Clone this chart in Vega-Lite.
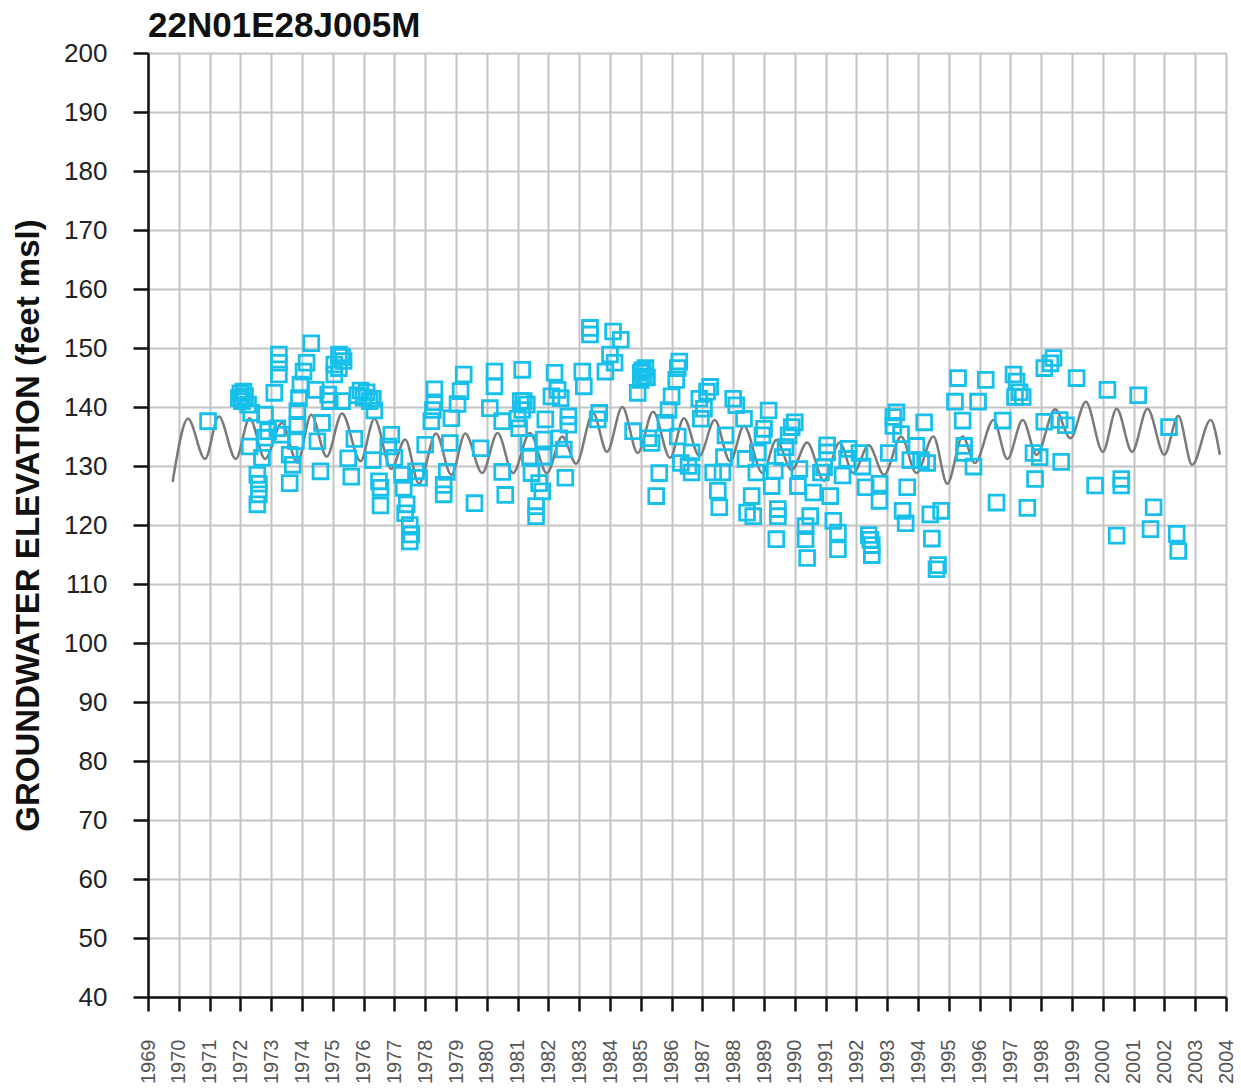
{
  "$schema": "https://vega.github.io/schema/vega-lite/v6.json",
  "width": 1078,
  "height": 944,
  "autosize": "none",
  "padding": {"left": 148, "top": 53, "right": 15, "bottom": 95},
  "background": "white",
  "title": {"text": "22N01E28J005M", "anchor": "start", "frame": "group", "fontSize": 35, "font": "Liberation Sans", "fontWeight": "bold", "color": "#111111", "offset": -4},
  "config": {"view": {"stroke": null}, "font": "Liberation Sans"},
  "datasets": {
    "sim": [
      {"year": 1969.8, "elev": 127.3}, {"year": 1970.3, "elev": 138.0}, {"year": 1970.85, "elev": 131.2},
      {"year": 1971.3, "elev": 138.4}, {"year": 1971.85, "elev": 131.2}, {"year": 1972.3, "elev": 138.1},
      {"year": 1972.8, "elev": 131.2}, {"year": 1973.35, "elev": 137.3}, {"year": 1973.85, "elev": 130.6},
      {"year": 1974.3, "elev": 138.7}, {"year": 1974.8, "elev": 131.6}, {"year": 1975.3, "elev": 138.9},
      {"year": 1975.9, "elev": 130.8}, {"year": 1976.35, "elev": 138.0}, {"year": 1976.9, "elev": 129.5},
      {"year": 1977.35, "elev": 134.5}, {"year": 1977.8, "elev": 127.0}, {"year": 1978.35, "elev": 135.5},
      {"year": 1978.85, "elev": 128.5}, {"year": 1979.3, "elev": 135.5}, {"year": 1979.85, "elev": 128.8},
      {"year": 1980.35, "elev": 135.6}, {"year": 1980.85, "elev": 128.8}, {"year": 1981.4, "elev": 135.6},
      {"year": 1981.95, "elev": 128.8}, {"year": 1982.45, "elev": 135.0}, {"year": 1982.9, "elev": 130.4},
      {"year": 1983.45, "elev": 139.0}, {"year": 1983.9, "elev": 132.4}, {"year": 1984.4, "elev": 140.0},
      {"year": 1984.9, "elev": 132.2}, {"year": 1985.4, "elev": 139.2}, {"year": 1985.95, "elev": 131.4},
      {"year": 1986.4, "elev": 138.1}, {"year": 1986.9, "elev": 131.7}, {"year": 1987.4, "elev": 137.8},
      {"year": 1987.9, "elev": 130.8}, {"year": 1988.35, "elev": 136.8}, {"year": 1988.95, "elev": 128.8},
      {"year": 1989.4, "elev": 134.4}, {"year": 1989.9, "elev": 129.3}, {"year": 1990.4, "elev": 134.0},
      {"year": 1990.95, "elev": 127.5}, {"year": 1991.45, "elev": 134.0}, {"year": 1991.9, "elev": 128.8},
      {"year": 1992.4, "elev": 133.5}, {"year": 1992.9, "elev": 128.5}, {"year": 1993.45, "elev": 135.0},
      {"year": 1993.95, "elev": 128.8}, {"year": 1994.5, "elev": 135.0}, {"year": 1994.95, "elev": 127.0},
      {"year": 1995.45, "elev": 135.0}, {"year": 1995.85, "elev": 130.5}, {"year": 1996.45, "elev": 137.8},
      {"year": 1996.9, "elev": 131.2}, {"year": 1997.4, "elev": 137.8}, {"year": 1997.85, "elev": 131.9},
      {"year": 1998.45, "elev": 139.6}, {"year": 1998.95, "elev": 134.7}, {"year": 1999.45, "elev": 140.9},
      {"year": 2000.0, "elev": 132.4}, {"year": 2000.45, "elev": 139.7}, {"year": 2000.95, "elev": 132.4},
      {"year": 2001.45, "elev": 139.7}, {"year": 2002.0, "elev": 131.9}, {"year": 2002.45, "elev": 138.5},
      {"year": 2002.9, "elev": 130.2}, {"year": 2003.5, "elev": 137.8}, {"year": 2003.8, "elev": 131.9}
    ],
    "obs": [
      {"year": 1970.95, "elev": 137.6}, {"year": 1971.95, "elev": 141.5}, {"year": 1972.0, "elev": 142.3},
      {"year": 1972.05, "elev": 141.0}, {"year": 1972.1, "elev": 142.6}, {"year": 1972.15, "elev": 141.8},
      {"year": 1972.25, "elev": 140.4}, {"year": 1972.35, "elev": 139.0}, {"year": 1972.3, "elev": 133.3},
      {"year": 1972.55, "elev": 128.5}, {"year": 1972.6, "elev": 127.0}, {"year": 1972.6, "elev": 125.2},
      {"year": 1972.55, "elev": 123.5}, {"year": 1972.7, "elev": 131.4}, {"year": 1972.8, "elev": 138.7},
      {"year": 1972.9, "elev": 135.9}, {"year": 1973.1, "elev": 142.4}, {"year": 1973.25, "elev": 145.5},
      {"year": 1973.25, "elev": 147.5}, {"year": 1973.25, "elev": 148.9}, {"year": 1972.8, "elev": 134.8},
      {"year": 1973.2, "elev": 136.4}, {"year": 1973.35, "elev": 135.3}, {"year": 1973.6, "elev": 131.9},
      {"year": 1973.6, "elev": 127.1}, {"year": 1973.7, "elev": 130.2}, {"year": 1973.8, "elev": 134.2},
      {"year": 1973.85, "elev": 137.0}, {"year": 1973.85, "elev": 139.3}, {"year": 1973.9, "elev": 141.5},
      {"year": 1973.95, "elev": 143.8}, {"year": 1974.05, "elev": 146.0}, {"year": 1974.15, "elev": 147.5},
      {"year": 1974.3, "elev": 150.8}, {"year": 1974.45, "elev": 142.9}, {"year": 1974.5, "elev": 134.2},
      {"year": 1974.6, "elev": 129.1}, {"year": 1974.65, "elev": 137.3}, {"year": 1974.85, "elev": 142.1},
      {"year": 1974.9, "elev": 141.0}, {"year": 1975.05, "elev": 147.2}, {"year": 1975.05, "elev": 145.5},
      {"year": 1975.2, "elev": 148.9}, {"year": 1975.3, "elev": 148.5}, {"year": 1975.35, "elev": 147.8},
      {"year": 1975.2, "elev": 146.6}, {"year": 1975.3, "elev": 141.0}, {"year": 1975.8, "elev": 142.0},
      {"year": 1975.9, "elev": 142.8}, {"year": 1976.0, "elev": 141.6}, {"year": 1976.1, "elev": 142.5},
      {"year": 1976.2, "elev": 141.0}, {"year": 1976.3, "elev": 141.4}, {"year": 1976.35, "elev": 139.4},
      {"year": 1975.7, "elev": 134.6}, {"year": 1975.5, "elev": 131.3}, {"year": 1975.6, "elev": 128.2},
      {"year": 1976.3, "elev": 131.0}, {"year": 1976.5, "elev": 127.4}, {"year": 1976.55, "elev": 126.3},
      {"year": 1976.55, "elev": 123.3}, {"year": 1976.9, "elev": 135.3}, {"year": 1976.8, "elev": 133.3},
      {"year": 1977.0, "elev": 131.4}, {"year": 1977.25, "elev": 128.5}, {"year": 1977.3, "elev": 126.3},
      {"year": 1977.4, "elev": 123.5}, {"year": 1977.35, "elev": 122.0}, {"year": 1977.5, "elev": 120.0},
      {"year": 1977.55, "elev": 118.4}, {"year": 1977.5, "elev": 117.2}, {"year": 1977.7, "elev": 129.1},
      {"year": 1977.8, "elev": 128.0}, {"year": 1978.0, "elev": 133.6}, {"year": 1978.2, "elev": 137.6},
      {"year": 1978.25, "elev": 139.5}, {"year": 1978.3, "elev": 143.0}, {"year": 1978.3, "elev": 140.8},
      {"year": 1978.6, "elev": 126.8}, {"year": 1978.6, "elev": 125.2}, {"year": 1978.7, "elev": 129.0},
      {"year": 1978.8, "elev": 133.9}, {"year": 1978.85, "elev": 138.1}, {"year": 1979.05, "elev": 140.5},
      {"year": 1979.15, "elev": 142.7}, {"year": 1979.25, "elev": 145.5}, {"year": 1979.8, "elev": 133.0},
      {"year": 1979.6, "elev": 123.7}, {"year": 1980.25, "elev": 146.0}, {"year": 1980.25, "elev": 143.5},
      {"year": 1980.1, "elev": 139.8}, {"year": 1980.5, "elev": 137.6}, {"year": 1980.5, "elev": 129.0},
      {"year": 1980.6, "elev": 125.1}, {"year": 1981.15, "elev": 146.3}, {"year": 1981.1, "elev": 141.0},
      {"year": 1981.15, "elev": 139.5}, {"year": 1981.2, "elev": 141.0}, {"year": 1981.3, "elev": 140.4},
      {"year": 1981.0, "elev": 138.0}, {"year": 1981.05, "elev": 136.4}, {"year": 1981.35, "elev": 133.9},
      {"year": 1981.4, "elev": 131.6}, {"year": 1981.45, "elev": 128.8}, {"year": 1981.7, "elev": 127.1},
      {"year": 1981.8, "elev": 125.7}, {"year": 1981.6, "elev": 123.2}, {"year": 1981.6, "elev": 121.5},
      {"year": 1981.9, "elev": 137.9}, {"year": 1981.85, "elev": 134.5}, {"year": 1981.85, "elev": 131.6},
      {"year": 1982.1, "elev": 141.8}, {"year": 1982.2, "elev": 145.8}, {"year": 1982.3, "elev": 142.9},
      {"year": 1982.4, "elev": 141.5}, {"year": 1982.65, "elev": 138.4}, {"year": 1982.65, "elev": 137.0},
      {"year": 1982.5, "elev": 132.8}, {"year": 1982.55, "elev": 128.0}, {"year": 1982.35, "elev": 134.7},
      {"year": 1983.1, "elev": 146.0}, {"year": 1983.15, "elev": 143.5}, {"year": 1983.35, "elev": 153.4},
      {"year": 1983.35, "elev": 152.3}, {"year": 1983.6, "elev": 137.9}, {"year": 1983.65, "elev": 139.0},
      {"year": 1983.85, "elev": 146.0}, {"year": 1984.0, "elev": 148.9}, {"year": 1984.1, "elev": 152.8},
      {"year": 1984.35, "elev": 151.4}, {"year": 1984.15, "elev": 147.5}, {"year": 1984.75, "elev": 135.9},
      {"year": 1985.0, "elev": 145.8}, {"year": 1985.0, "elev": 144.6}, {"year": 1985.1, "elev": 145.2},
      {"year": 1985.05, "elev": 146.2}, {"year": 1985.2, "elev": 145.0}, {"year": 1984.9, "elev": 142.4},
      {"year": 1985.15, "elev": 146.6}, {"year": 1985.25, "elev": 134.7}, {"year": 1985.35, "elev": 133.9},
      {"year": 1985.6, "elev": 128.8}, {"year": 1985.5, "elev": 124.9}, {"year": 1985.8, "elev": 137.3},
      {"year": 1985.9, "elev": 139.5}, {"year": 1986.0, "elev": 141.8}, {"year": 1986.15, "elev": 144.6},
      {"year": 1986.2, "elev": 146.6}, {"year": 1986.25, "elev": 147.7}, {"year": 1986.3, "elev": 130.5},
      {"year": 1986.2, "elev": 135.0}, {"year": 1986.55, "elev": 130.0}, {"year": 1986.65, "elev": 128.9},
      {"year": 1986.65, "elev": 132.3}, {"year": 1986.9, "elev": 141.4}, {"year": 1987.15, "elev": 142.6},
      {"year": 1987.25, "elev": 143.4}, {"year": 1986.95, "elev": 138.0}, {"year": 1987.05, "elev": 139.7},
      {"year": 1987.35, "elev": 128.9}, {"year": 1987.5, "elev": 125.8}, {"year": 1987.55, "elev": 123.0},
      {"year": 1987.65, "elev": 128.9}, {"year": 1987.7, "elev": 131.5}, {"year": 1987.75, "elev": 135.2},
      {"year": 1988.0, "elev": 141.4}, {"year": 1988.1, "elev": 140.3}, {"year": 1988.35, "elev": 138.0},
      {"year": 1988.4, "elev": 131.2}, {"year": 1988.6, "elev": 124.9}, {"year": 1988.45, "elev": 122.1},
      {"year": 1988.65, "elev": 121.5}, {"year": 1988.75, "elev": 128.9}, {"year": 1988.8, "elev": 132.3},
      {"year": 1988.95, "elev": 135.2}, {"year": 1989.0, "elev": 136.3}, {"year": 1989.15, "elev": 139.4},
      {"year": 1989.25, "elev": 126.6}, {"year": 1989.35, "elev": 129.2}, {"year": 1989.45, "elev": 122.7},
      {"year": 1989.4, "elev": 117.6}, {"year": 1989.45, "elev": 121.5}, {"year": 1989.6, "elev": 131.5},
      {"year": 1989.7, "elev": 133.2}, {"year": 1989.8, "elev": 135.2}, {"year": 1989.9, "elev": 136.6},
      {"year": 1990.0, "elev": 137.4}, {"year": 1990.15, "elev": 129.5}, {"year": 1990.1, "elev": 126.6},
      {"year": 1990.35, "elev": 119.8}, {"year": 1990.5, "elev": 121.5}, {"year": 1990.35, "elev": 117.6},
      {"year": 1990.4, "elev": 114.4}, {"year": 1990.6, "elev": 125.5}, {"year": 1990.85, "elev": 128.9},
      {"year": 1990.95, "elev": 129.8}, {"year": 1991.05, "elev": 132.3}, {"year": 1991.05, "elev": 133.5},
      {"year": 1991.15, "elev": 124.9}, {"year": 1991.25, "elev": 120.7}, {"year": 1991.4, "elev": 118.7},
      {"year": 1991.4, "elev": 115.9}, {"year": 1991.55, "elev": 128.4}, {"year": 1991.7, "elev": 131.2},
      {"year": 1991.75, "elev": 132.9}, {"year": 1992.1, "elev": 132.2}, {"year": 1992.2, "elev": 129.9},
      {"year": 1992.3, "elev": 126.4}, {"year": 1992.4, "elev": 118.3}, {"year": 1992.5, "elev": 116.6},
      {"year": 1992.5, "elev": 114.9}, {"year": 1992.45, "elev": 117.5}, {"year": 1992.75, "elev": 127.0},
      {"year": 1992.75, "elev": 124.1}, {"year": 1993.05, "elev": 132.2}, {"year": 1993.2, "elev": 138.3},
      {"year": 1993.2, "elev": 136.8}, {"year": 1993.3, "elev": 139.1}, {"year": 1993.45, "elev": 135.4},
      {"year": 1993.5, "elev": 122.4}, {"year": 1993.6, "elev": 120.3}, {"year": 1993.65, "elev": 126.4},
      {"year": 1993.75, "elev": 131.0}, {"year": 1993.95, "elev": 133.4}, {"year": 1994.2, "elev": 137.4},
      {"year": 1994.1, "elev": 131.0}, {"year": 1994.3, "elev": 130.5}, {"year": 1994.4, "elev": 121.8},
      {"year": 1994.45, "elev": 117.7}, {"year": 1994.6, "elev": 112.5}, {"year": 1994.65, "elev": 113.2},
      {"year": 1994.75, "elev": 122.4}, {"year": 1995.3, "elev": 144.9}, {"year": 1995.2, "elev": 140.9},
      {"year": 1995.45, "elev": 137.7}, {"year": 1995.5, "elev": 133.4}, {"year": 1995.5, "elev": 132.2},
      {"year": 1995.8, "elev": 129.9}, {"year": 1995.95, "elev": 140.9}, {"year": 1996.2, "elev": 144.6},
      {"year": 1996.55, "elev": 123.8}, {"year": 1996.75, "elev": 137.7}, {"year": 1997.1, "elev": 145.5},
      {"year": 1997.2, "elev": 144.3}, {"year": 1997.15, "elev": 141.7}, {"year": 1997.3, "elev": 142.5},
      {"year": 1997.4, "elev": 141.7}, {"year": 1997.55, "elev": 122.9}, {"year": 1997.8, "elev": 127.8},
      {"year": 1997.75, "elev": 132.2}, {"year": 1998.4, "elev": 148.3}, {"year": 1998.3, "elev": 147.4},
      {"year": 1998.1, "elev": 146.6}, {"year": 1998.1, "elev": 137.5}, {"year": 1998.6, "elev": 137.8},
      {"year": 1998.8, "elev": 136.9}, {"year": 1997.95, "elev": 131.5}, {"year": 1998.65, "elev": 130.7},
      {"year": 1999.15, "elev": 144.9}, {"year": 1999.75, "elev": 126.7}, {"year": 2000.15, "elev": 142.9},
      {"year": 2000.6, "elev": 127.8}, {"year": 2000.6, "elev": 126.7}, {"year": 2000.45, "elev": 118.2},
      {"year": 2001.15, "elev": 142.0}, {"year": 2001.55, "elev": 119.3}, {"year": 2001.65, "elev": 123.0},
      {"year": 2002.15, "elev": 136.6}, {"year": 2002.4, "elev": 118.5}, {"year": 2002.45, "elev": 115.6}
    ]
  },
  "encoding": {
    "x": {
      "field": "year", "type": "quantitative",
      "scale": {"domain": [1969, 2004], "nice": false, "zero": false},
      "axis": {
        "title": null,
        "values": [1969,1970,1971,1972,1973,1974,1975,1976,1977,1978,1979,1980,1981,1982,1983,1984,1985,1986,1987,1988,1989,1990,1991,1992,1993,1994,1995,1996,1997,1998,1999,2000,2001,2002,2003,2004],
        "tickCount": 50,
        "format": "d",
        "labelAngle": -90,
        "labelFontSize": 20,
        "labelColor": "#555555",
        "labelPadding": 28,
        "labelOverlap": false,
        "labelFlush": false,
        "labelBound": false,
        "tickColor": "#111111",
        "tickSize": 14,
        "tickWidth": 2.5,
        "domainColor": "#111111",
        "domainWidth": 2.5,
        "grid": true,
        "gridColor": "#c4c4c4",
        "gridWidth": 2
      }
    },
    "y": {
      "field": "elev", "type": "quantitative",
      "scale": {"domain": [40, 200], "nice": false, "zero": false},
      "axis": {
        "title": "GROUNDWATER ELEVATION (feet msl)",
        "titleFontSize": 33,
        "titleFontWeight": "bold",
        "titleColor": "#111111",
        "titlePadding": 18,
        "values": [40,50,60,70,80,90,100,110,120,130,140,150,160,170,180,190,200],
        "tickCount": 30,
        "labelFontSize": 26,
        "labelColor": "#222222",
        "labelPadding": 26,
        "labelOverlap": false,
        "labelFlush": false,
        "tickColor": "#111111",
        "tickSize": 15,
        "tickWidth": 2.5,
        "domainColor": "#111111",
        "domainWidth": 2.5,
        "grid": true,
        "gridColor": "#c4c4c4",
        "gridWidth": 2
      }
    }
  },
  "layer": [
    {
      "data": {"name": "sim"},
      "mark": {"type": "line", "color": "#7a7a7a", "strokeWidth": 2.5, "interpolate": "monotone"}
    },
    {
      "data": {"name": "obs"},
      "mark": {"type": "point", "shape": "square", "filled": false, "color": "#17c0eb", "strokeWidth": 2.8, "size": 220, "opacity": 1}
    }
  ]
}
